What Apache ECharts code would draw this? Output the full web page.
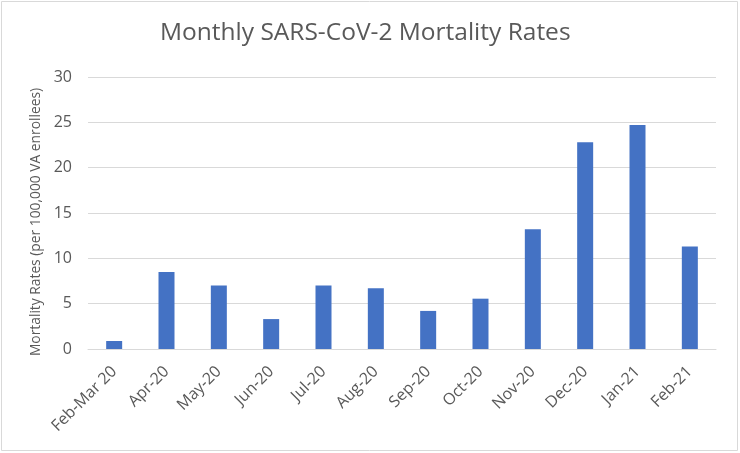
<!DOCTYPE html>
<html><head><meta charset="utf-8">
<script src="https://cdn.jsdelivr.net/npm/echarts@6/dist/echarts.min.js"></script>
<style>html,body{margin:0;padding:0;background:#fff}#c{width:740px;height:453px}</style>
</head><body><div id="c"></div>
<script>
var categories = ["Feb-Mar 20","Apr-20","May-20","Jun-20","Jul-20","Aug-20","Sep-20","Oct-20","Nov-20","Dec-20","Jan-21","Feb-21"];
var rates = [0.88, 8.5, 7.0, 3.3, 7.0, 6.7, 4.2, 5.55, 13.2, 22.8, 24.7, 11.3];
var yTicks = [0, 5, 10, 15, 20, 25, 30];
var titleText = "Monthly SARS-CoV-2 Mortality Rates";
var yAxisTitle = "Mortality Rates (per 100,000 VA enrollees)";

var chart = echarts.init(document.getElementById('c'));
var font = "'Open Sans', sans-serif";
chart.setOption({
  animation: false,
  graphic: [{type:'rect', shape:{x:1.5,y:1.5,width:736,height:449}, style:{fill:'none', stroke:'#d9d9d9', lineWidth:1}}],
  title: {text: titleText, left: 155, top: 16, textStyle:{fontFamily:font, fontSize:24.5, fontWeight:'normal', color:'#595959'}},
  grid: {left: 88, right: 24, top: 77, bottom: 104},
  xAxis: {type:'category', data: categories,
    axisLine:{lineStyle:{color:'#d9d9d9'}}, axisTick:{show:false},
    axisLabel:{rotate:45, interval:0, color:'#595959', fontFamily:font, fontSize:16, margin:20}},
  yAxis: {type:'value', min: yTicks[0], max: yTicks[yTicks.length-1], interval: 5,
    name: yAxisTitle, nameLocation:'middle', nameGap: 43, nameRotate: 90,
    nameTextStyle:{color:'#595959', fontFamily:font, fontSize:13.8, padding:[0,18,0,0]},
    axisLine:{show:false}, axisTick:{show:false},
    axisLabel:{color:'#595959', fontFamily:font, fontSize:16, margin:16},
    splitLine:{lineStyle:{color:'#d9d9d9', width:1}}},
  series: [{type:'bar', data: rates, barWidth: 16, itemStyle:{color:'#4472C4'}}]
});
</script></body></html>
